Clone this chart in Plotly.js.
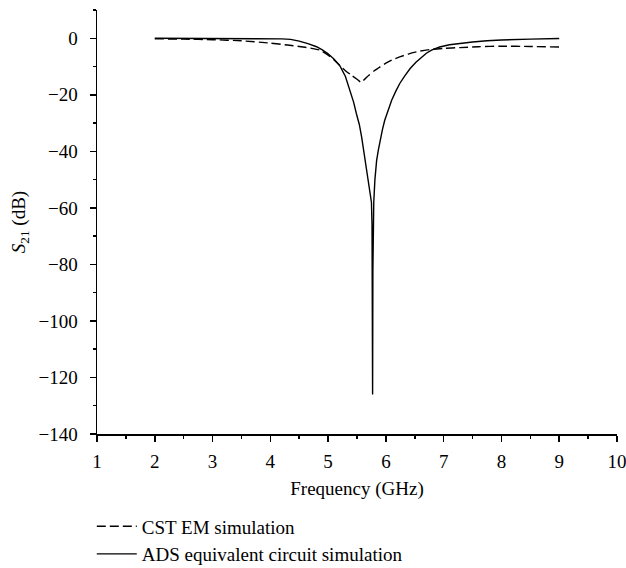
<!DOCTYPE html>
<html>
<head>
<meta charset="utf-8">
<script src="https://cdn.plot.ly/plotly-3.0.1.min.js"></script>
<style>html,body{margin:0;padding:0;background:#fff;}</style>
</head>
<body>
<div id="chart" style="width:626px;height:568px;"></div>
<script>
// CST EM simulation (dashed)
var cstFreq = [2, 2.5, 3, 3.5, 4, 4.3, 4.5, 4.7, 4.86, 5.03, 5.1, 5.2, 5.3, 5.4, 5.5, 5.57, 5.7, 5.8, 5.9, 6.0, 6.1, 6.24, 6.4, 6.6, 6.76, 7.0, 7.28, 7.6, 8.0, 8.5, 9.0];
var cstS21 = [-0.2, -0.3, -0.5, -0.9, -1.7, -2.4, -2.9, -3.5, -4.2, -6.4, -7.6, -9.6, -11.5, -13, -14.5, -15.5, -13.2, -11.5, -10.1, -8.8, -7.7, -6.6, -5.5, -4.5, -4, -3.6, -3.3, -3, -2.8, -2.9, -3.1];

// ADS equivalent circuit simulation (solid)
var adsFreq = [2, 2.5, 3, 3.5, 4, 4.2, 4.35, 4.5, 4.65, 4.8, 4.9, 5.0, 5.1, 5.2, 5.3, 5.38, 5.44, 5.49, 5.54, 5.58, 5.62, 5.65, 5.69, 5.73, 5.75, 5.76, 5.765, 5.77, 5.775, 5.78, 5.79, 5.81, 5.84, 5.87, 5.9, 5.94, 5.98, 6.04, 6.1, 6.17, 6.24, 6.33, 6.42, 6.52, 6.62, 6.7, 6.79, 6.93, 7.1, 7.3, 7.5, 7.75, 8.0, 8.5, 9.0];
var adsS21 = [0, 0, 0, 0, -0.1, -0.2, -0.4, -1.0, -1.9, -3.0, -4.1, -5.5, -7.3, -9.6, -13.5, -18.4, -22.5, -26.7, -30.5, -34.9, -40, -44, -50, -55, -58, -66, -80, -126, -82, -68, -58, -50, -43.2, -39.5, -36.1, -32.3, -29, -25.2, -21.9, -18.8, -16, -13.2, -10.7, -8.5, -6.6, -5.3, -4.2, -3.1, -2.3, -1.7, -1.3, -0.9, -0.6, -0.3, -0.1];

var traceNames = ["CST EM simulation", "ADS equivalent circuit simulation"];

var font = {family: "Liberation Serif, Times New Roman, serif", size: 19, color: "#000"};

var traces = [
  {x: cstFreq, y: cstS21, name: traceNames[0], type: "scatter", mode: "lines",
   line: {color: "#000", width: 1.4, dash: "9px,4px", shape: "spline", smoothing: 0.6}},
  {x: adsFreq, y: adsS21, name: traceNames[1], type: "scatter", mode: "lines",
   line: {color: "#000", width: 1.4}}
];

var layout = {
  width: 626, height: 568,
  margin: {l: 97, r: 9, t: 10, b: 134, autoexpand: false},
  paper_bgcolor: "#fff", plot_bgcolor: "#fff",
  font: font,
  showlegend: true,
  legend: {x: -0.01, y: -0.173, xanchor: "left", yanchor: "top", orientation: "v",
           font: font, bgcolor: "rgba(0,0,0,0)", tracegroupgap: 0, itemwidth: 40},
  xaxis: {
    range: [1, 10], dtick: 1, tick0: 1,
    showline: true, linecolor: "#000", linewidth: 1.5,
    ticks: "outside", ticklen: 6, tickwidth: 1.5, tickcolor: "#000",
    minor: {dtick: 0.5, ticks: "outside", ticklen: 3, tickwidth: 1.5, tickcolor: "#000"},
    showgrid: false, zeroline: false, mirror: false,
    tickfont: font, ticklabelstandoff: 4, ticklabeloverflow: "allow",
    title: {text: "Frequency (GHz)", font: font, standoff: 10}
  },
  yaxis: {
    range: [-140, 10], dtick: 20, tick0: 0,
    showline: true, linecolor: "#000", linewidth: 1.5,
    ticks: "outside", ticklen: 6, tickwidth: 1.5, tickcolor: "#000",
    minor: {dtick: 10, ticks: "outside", ticklen: 3, tickwidth: 1.5, tickcolor: "#000"},
    showgrid: false, zeroline: false, mirror: false,
    tickfont: font, ticklabelstandoff: 8, ticklabeloverflow: "allow",
    title: {text: "<i>S</i><sub>21</sub> (dB)", font: font, standoff: 8}
  }
};

Plotly.newPlot("chart", traces, layout, {displayModeBar: false, staticPlot: true});
</script>
</body>
</html>
